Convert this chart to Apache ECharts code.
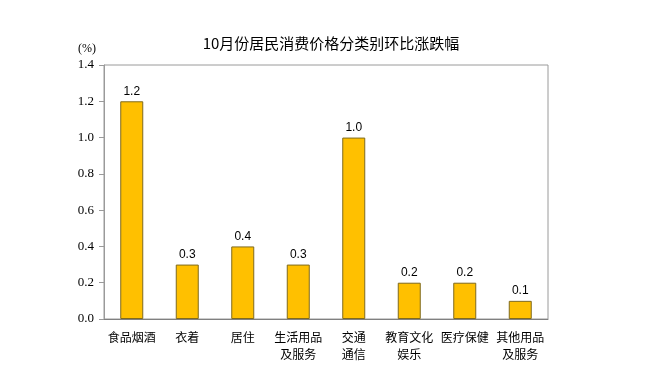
<!DOCTYPE html>
<html>
<head>
<meta charset="utf-8">
<script src="https://cdn.jsdelivr.net/npm/echarts@6/dist/echarts.min.js"></script>
<style>
html, body { margin: 0; padding: 0; background: #fff; }
#main { width: 660px; height: 376px; }
</style>
</head>
<body>
<div id="main"></div>
<script>
var categories = ['食品烟酒', '衣着', '居住', '生活用品\n及服务', '交通\n通信', '教育文化\n娱乐', '医疗保健', '其他用品\n及服务'];
var values = [1.2, 0.3, 0.4, 0.3, 1.0, 0.2, 0.2, 0.1];

var myChart = echarts.init(document.getElementById('main'));
var option = {
    backgroundColor: '#fff',
    title: {
        text: '10月份居民消费价格分类别环比涨跌幅',
        left: 326,
        top: 31,
        textAlign: 'center',
        textStyle: {
            fontSize: 15,
            fontWeight: 'normal',
            color: '#000',
            fontFamily: 'Noto Sans CJK SC'
        }
    },
    grid: {
        left: 104,
        right: 112,
        top: 65,
        bottom: 57,
        show: true,
        borderColor: '#9a9a9a',
        borderWidth: 1
    },
    xAxis: {
        type: 'category',
        data: categories,
        axisLine: { lineStyle: { color: '#808080' } },
        axisTick: { show: false },
        axisLabel: {
            interval: 0,
            margin: 10,
            color: '#000',
            fontSize: 12,
            lineHeight: 17,
            fontFamily: 'Noto Sans CJK SC'
        }
    },
    yAxis: {
        type: 'value',
        min: 0,
        max: 1.4,
        interval: 0.2,
        name: '(%)',
        nameLocation: 'end',
        nameGap: 10,
        nameTextStyle: {
            color: '#000',
            fontSize: 12,
            fontFamily: 'Liberation Serif',
            align: 'right',
            padding: [0, 8, 0, 0]
        },
        axisLine: { show: true, lineStyle: { color: '#9a9a9a' } },
        axisTick: { show: true, inside: false, length: 5, lineStyle: { color: '#9a9a9a' } },
        splitLine: { show: false },
        axisLabel: {
            color: '#000',
            fontSize: 13,
            margin: 10,
            fontFamily: 'Liberation Serif',
            formatter: function (v) { return v.toFixed(1); }
        }
    },
    series: [{
        type: 'bar',
        data: values,
        barWidth: 23,
        itemStyle: {
            color: '#FFC000',
            borderColor: '#7f6a1e',
            borderWidth: 1
        },
        label: {
            show: true,
            position: 'top',
            distance: 4,
            color: '#000',
            fontSize: 12,
            fontFamily: 'Liberation Sans',
            formatter: function (p) { return p.value.toFixed(1); }
        }
    }]
};
myChart.setOption(option);
</script>
</body>
</html>
